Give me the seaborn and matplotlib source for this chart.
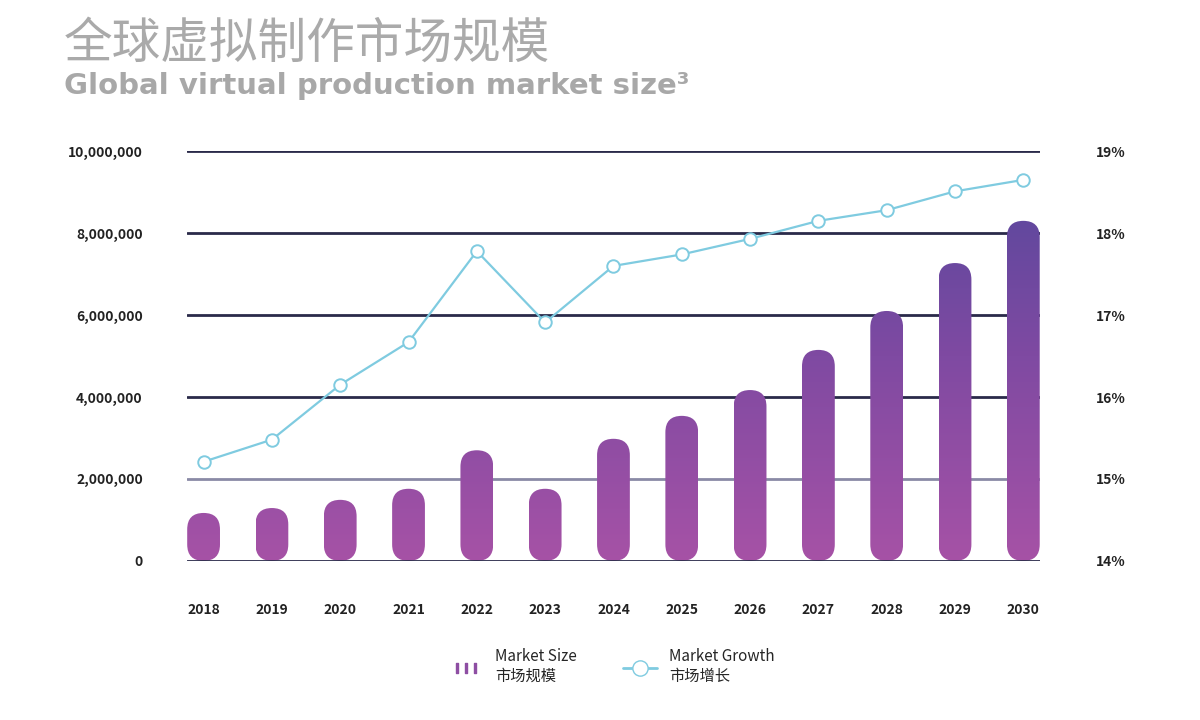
import matplotlib.pyplot as plt
import seaborn as sns
import numpy as np
import pandas as pd
from matplotlib.patches import FancyBboxPatch
from matplotlib.colors import LinearSegmentedColormap
from matplotlib.lines import Line2D
from matplotlib.ticker import FuncFormatter

years = ["2018", "2019", "2020", "2021", "2022", "2023", "2024",
         "2025", "2026", "2027", "2028", "2029", "2030"]
market_size = [1170000, 1290000, 1490000, 1760000, 2700000, 1760000, 2980000,
               3540000, 4170000, 5150000, 6100000, 7270000, 8300000]
market_growth = [15.21, 15.48, 16.15, 16.67, 17.78, 16.91, 17.60,
                 17.74, 17.93, 18.15, 18.28, 18.51, 18.65]


def generate_market_chart():
    df = pd.DataFrame({"Year": years, "Size": market_size, "Growth": market_growth})

    # Clean white layout, fonts with CJK fallback
    sns.set_theme(style="white")
    plt.rcParams["font.family"] = ["Noto Sans CJK SC", "DejaVu Sans"]

    fig = plt.figure(figsize=(12, 7.2), dpi=100)
    ax = fig.add_axes([0.156, 0.221, 0.711, 0.569])

    sns.barplot(data=df, x="Year", y="Size", ax=ax, color="#9b50a2", width=0.48)

    # Replace flat bars by rounded gradient bars
    cmap = LinearSegmentedColormap.from_list("bar", ["#a652a6", "#7f4aa2", "#54479c"])
    grad = np.linspace(0, 1, 256).reshape(-1, 1)
    for bar in list(ax.patches):
        x0, w, h = bar.get_x(), bar.get_width(), bar.get_height()
        bar.set_visible(False)
        shape = FancyBboxPatch((x0, 0), w, h, boxstyle="round,pad=0,rounding_size=0.24",
                               mutation_aspect=1.67e6, facecolor="none", edgecolor="none")
        ax.add_patch(shape)
        img = ax.imshow(grad, extent=[x0, x0 + w, 0, 10000000], origin="lower",
                        cmap=cmap, aspect="auto", zorder=3)
        img.set_clip_path(shape)

    ax.set_xlim(-0.24, 12.25)
    ax.set_ylim(0, 10000000)
    ax.set_yticks(range(0, 10000001, 2000000))
    ax.yaxis.set_major_formatter(FuncFormatter(lambda v, p: f"{int(v):,}"))
    for v in range(0, 10000001, 2000000):
        ax.axhline(v, color="#8a8aa6" if v == 2000000 else "#2a2a4a", lw=2, zorder=4 if v == 0 else 1)
    ax.set_xlabel("")
    ax.set_ylabel("")
    ax.tick_params(axis="both", length=0, labelsize=10)
    ax.tick_params(axis="y", pad=32)
    ax.tick_params(axis="x", pad=30)
    for lbl in ax.get_xticklabels() + ax.get_yticklabels():
        lbl.set_fontweight("semibold")
        lbl.set_color("#222222")
    sns.despine(ax=ax, left=True, bottom=True)

    # Growth line on the right axis
    ax2 = ax.twinx()
    sns.lineplot(x=np.arange(len(years)), y=market_growth, ax=ax2, color="#7fcbe0", lw=1.6,
                 marker="o", markersize=9, markerfacecolor="white",
                 markeredgecolor="#7fcbe0", markeredgewidth=1.4, zorder=5)
    ax2.set_ylim(14, 19)
    ax2.set_yticks([14, 15, 16, 17, 18, 19])
    ax2.set_yticklabels([f"{t}%" for t in range(14, 20)])
    ax2.tick_params(axis="y", length=0, labelsize=10, pad=40)
    for lbl in ax2.get_yticklabels():
        lbl.set_fontweight("semibold")
        lbl.set_color("#222222")
    sns.despine(ax=ax2, left=True, bottom=True, right=True)
    ax2.grid(False)

    # Titles
    fig.text(0.053, 0.92, "全球虚拟制作市场规模", fontsize=35, color="#aaaaaa")
    fig.text(0.053, 0.87, "Global virtual production market size³", fontsize=21,
             color="#a8a8a8", fontweight="bold", family=["DejaVu Sans"])

    # Legend under the chart
    handles = [Line2D([0], [0], color="#8e4ea3", lw=0, marker="$\u2759\u2759\u2759$", markersize=14),
               Line2D([0], [0], color="#7fcbe0", lw=2, marker="o", markersize=11,
                      markerfacecolor="white", markeredgecolor="#7fcbe0")]
    fig.legend(handles, ["Market Size\n市场规模", "Market Growth\n市场增长"],
               loc="lower center", bbox_to_anchor=(0.51, 0.03), ncol=2, frameon=False,
               fontsize=11, handlelength=2.2, columnspacing=3)

    fig.savefig("out.png", dpi=100)
    plt.close(fig)


if __name__ == "__main__":
    generate_market_chart()
